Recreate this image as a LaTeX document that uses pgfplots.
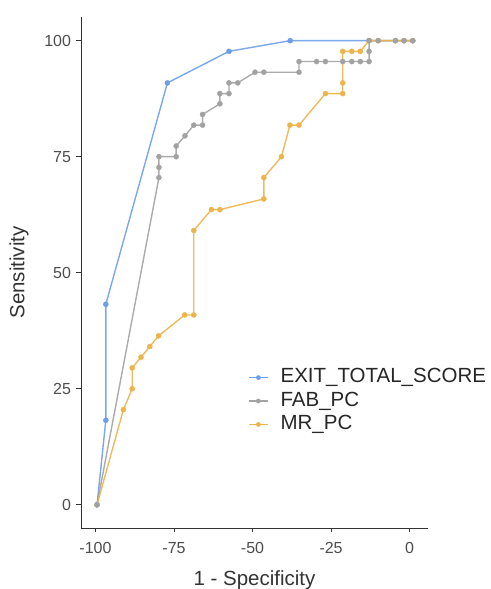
\documentclass[border=0pt]{standalone}
\usepackage{fontspec}
\setmainfont{Liberation Sans}
\usepackage{pgfplots}
\usepackage{pgfplotstable}
\pgfplotsset{compat=1.18}

\definecolor{exitc}{RGB}{109,158,235}
\definecolor{fabc}{RGB}{162,162,162}
\definecolor{mrc}{RGB}{236,180,74}
\definecolor{axisgray}{RGB}{51,51,51}
\definecolor{tickgray}{RGB}{77,77,77}

% ROC curves: x = 1 - specificity (scaled), y = sensitivity (%)
\pgfplotstableread{
x y
-99.5 0
-96.7 18.2
-96.7 43.2
-77.1 90.9
-57.5 97.7
-38.0 100
-12.9 100
1.0 100
}\exittable

\pgfplotstableread{
x y
-99.5 0
-79.8 70.5
-79.8 72.7
-79.8 75.0
-74.3 75.0
-74.3 77.3
-71.5 79.5
-68.7 81.8
-65.9 81.8
-65.9 84.1
-60.4 86.4
-60.4 88.6
-57.5 88.6
-57.5 90.9
-54.7 90.9
-49.2 93.2
-46.4 93.2
-35.2 93.2
-35.2 95.5
-29.6 95.5
-26.8 95.5
-21.3 95.5
-18.4 95.5
-15.7 95.5
-12.9 95.5
-12.9 97.7
-12.9 100
-10.0 100
-4.5 100
-1.8 100
1.0 100
}\fabtable

\pgfplotstableread{
x y
-99.5 0
-91.1 20.5
-88.3 25.0
-88.3 29.5
-85.5 31.8
-82.7 34.1
-79.9 36.4
-71.6 40.9
-68.7 40.9
-68.7 59.1
-63.1 63.6
-60.4 63.6
-46.4 65.9
-46.4 70.5
-40.8 75.0
-38.1 81.8
-35.2 81.8
-26.8 88.6
-21.3 88.6
-21.3 90.9
-21.3 97.7
-18.4 97.7
-15.7 97.7
-12.9 100
-10.0 100
-4.5 100
-1.8 100
1.0 100
}\mrtable

\begin{document}
\begin{tikzpicture}
\begin{axis}[
  at={(81pt,61pt)}, anchor=south west,
  scale only axis, width=347pt, height=511pt,
  xmin=-104.6, xmax=5.85, ymin=-5, ymax=105.1,
  axis x line*=bottom, axis y line*=left,
  axis line style={axisgray, line width=0.9pt, -},
  xtick={-100,-75,-50,-25,0}, ytick={0,25,50,75,100},
  tick align=outside, major tick length=4.5pt,
  tick style={axisgray, line width=0.9pt},
  ticklabel style={font=\fontsize{16}{19}\selectfont, text=tickgray},
  xticklabel style={yshift=-6pt},
  yticklabel style={xshift=-2pt},
  /pgf/number format/assume math mode=true,
  xlabel={1 - Specificity}, ylabel={Sensitivity},
  label style={font=\fontsize{20.5}{24}\selectfont, text=black!80},
  xlabel style={at={(axis description cs:0.5,0)}, anchor=base, yshift=-58pt},
  ylabel style={at={(axis description cs:-0.1787,0.5)}, anchor=center},
  legend style={at={(axis description cs:0.487,0.2485)}, anchor=west, xshift=-2pt,
    draw=none, fill=none, font=\fontsize{20.5}{24}\selectfont, text=black!85,
    row sep=3.4pt, inner sep=0pt,
    nodes={inner xsep=6pt, inner ysep=0pt, text height=15pt, text depth=5pt},
    /tikz/every odd column/.append style={column sep=6pt}},
  legend cell align=left,
  legend image code/.code={\draw[mark repeat=2,mark phase=2] plot coordinates {(0pt,0pt) (9.5pt,0pt) (19pt,0pt)};},
]
% connecting lines first
\addplot[forget plot, exitc, line width=1.4pt, opacity=0.9] table {\exittable};
\addplot[forget plot, fabc, line width=1.4pt, opacity=0.9] table {\fabtable};
\addplot[forget plot, mrc, line width=1.4pt, opacity=0.9] table {\mrtable};
% points on top
\addplot[forget plot, only marks, color=exitc, mark=*, mark size=2.6pt, mark options={fill=exitc, draw=exitc, line width=0.3pt}] table {\exittable};
\addplot[forget plot, only marks, color=mrc, mark=*, mark size=2.6pt, mark options={fill=mrc, draw=mrc, line width=0.3pt}] table {\mrtable};
\addplot[forget plot, only marks, color=fabc, mark=*, mark size=2.6pt, mark options={fill=fabc, draw=fabc, line width=0.3pt}] table {\fabtable};
% legend keys
\addlegendimage{exitc, line width=1.4pt, mark=*, mark size=2.2pt, mark options={fill=exitc, draw=exitc, line width=0.3pt}}
\addlegendentry{EXIT\_TOTAL\_SCORE}
\addlegendimage{fabc, line width=1.4pt, mark=*, mark size=2.2pt, mark options={fill=fabc, draw=fabc, line width=0.3pt}}
\addlegendentry{FAB\_PC}
\addlegendimage{mrc, line width=1.4pt, mark=*, mark size=2.2pt, mark options={fill=mrc, draw=mrc, line width=0.3pt}}
\addlegendentry{MR\_PC}
\end{axis}
\pgfresetboundingbox
\path[use as bounding box] (0,0) rectangle (490pt,589pt);
\end{tikzpicture}
\end{document}
